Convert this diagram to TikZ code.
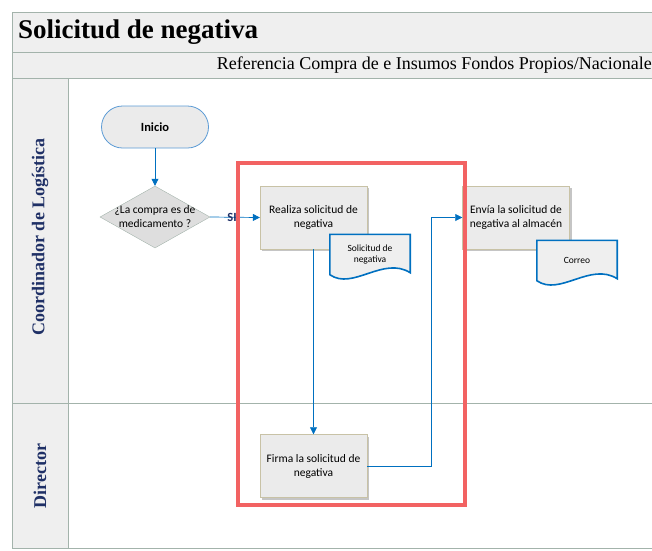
\documentclass[tikz,border=0pt]{standalone}
\usepackage{fontspec}
\setmainfont{Liberation Serif}
\newfontfamily\boxfont{Carlito}
\usetikzlibrary{arrows.meta,positioning,calc,shapes.geometric,shadows}
\definecolor{flowblue}{HTML}{0070C0}
\definecolor{startblue}{HTML}{5B9BD5}
\definecolor{boxfill}{HTML}{EBEBEB}
\definecolor{boxline}{HTML}{C8C2A6}
\definecolor{lanegray}{HTML}{EFEFEF}
\definecolor{laneline}{HTML}{A3B3AB}
\definecolor{lanetext}{HTML}{1F3066}
\definecolor{focusred}{HTML}{F26262}
\tikzset{
    lane line/.style={laneline,line width=1pt},
    lane label/.style={font=\bfseries\fontsize{18}{20}\selectfont,text=lanetext,rotate=90},
    process/.style={draw=boxline,fill=boxfill,minimum width=107pt,minimum height=63pt,
        align=center,font=\boxfont\fontsize{11.5}{14}\selectfont,
        drop shadow={shadow xshift=2pt,shadow yshift=-2pt,fill=black!45,opacity=.5}},
    start/.style={draw=startblue,fill=boxfill,rounded corners=21pt,line width=.8pt,
        minimum width=107pt,minimum height=42pt,font=\boxfont\bfseries\fontsize{12.5}{14}\selectfont},
    decision/.style={diamond,draw=laneline,fill=black!13,inner sep=0pt,
        minimum width=110pt,minimum height=62pt,align=center,
        font=\boxfont\fontsize{11.5}{14}\selectfont},
    document/.style={minimum width=80pt,minimum height=40pt,align=center,
        font=\boxfont\fontsize{9.5}{11.5}\selectfont},
    docline/.style={draw=flowblue,fill=lanegray,line width=1.6pt},
    arr/.style={-{Triangle[width=7pt,length=7pt]},flowblue,line width=.7pt},
    focus/.style={focusred,line width=4pt},
}
% wavy outline round a document node
\newcommand{\docoutline}[1]{%
    \draw[docline] (#1.north west) -- (#1.north east) -- ($(#1.south east)+(0,-2)$)
        .. controls ($(#1.south east)+(-27,-19)$) and ($(#1.south west)+(23,16)$) .. (#1.south west) -- cycle;
}

\begin{document}
\begin{tikzpicture}[x=1pt,y=-1pt]
    \useasboundingbox (0,0) rectangle (652,550);
    % header and lanes
    \fill[lanegray] (12,12) rectangle (660,78);
    \fill[lanegray] (12,78) rectangle (68,548);
    \draw[lane line] (660,12) -- (12,12) -- (12,548) -- (660,548);
    \draw[lane line] (12,52) -- (660,52);
    \draw[lane line] (12,78) -- (660,78);
    \draw[lane line] (68,78) -- (68,548);
    \draw[lane line] (12,403) -- (660,403);
    \node[anchor=west,inner sep=0pt,font=\bfseries\fontsize{27}{29}\selectfont] (title) at (18,32) {Solicitud de negativa};
    \node[anchor=east,inner sep=0pt,font=\fontsize{18}{20}\selectfont] (ref) at (652,65) {Referencia Compra de e Insumos Fondos Propios/Nacionale};
    \node[lane label] (coord) at (40,237) {Coordinador de Logística};
    \node[lane label] (dir) at (40,476) {Director};

    % shapes
    \node[start] (inicio) at (155,127) {Inicio};
    \node[decision] (compra) at (155,217) {\makebox[0pt]{¿La compra es de}\\\makebox[0pt]{medicamento ?}};
    \node[process] (realiza) at (313.5,217.5) {Realiza solicitud de\\negativa};
    \node[process] (firma) at (313.5,466) {Firma la solicitud de\\negativa};
    \node[process] (envia) at (516,217.5) {Envía la solicitud de\\negativa al almacén};
    \node[document] (soldoc) at (370,254.5) {};
    \docoutline{soldoc}
    \node[document] at (soldoc) {Solicitud de\\negativa};
    \node[document] (correo) at (577,260.5) {};
    \docoutline{correo}
    \node[document] at (correo) {Correo};

    % connectors
    \draw[arr] (inicio) -- (compra);
    \draw[arr] (compra.east) -- node[pos=.44,font=\boxfont\bfseries\fontsize{12.5}{14}\selectfont,text=lanetext,inner sep=0pt] {SI} (realiza.west);
    \draw[arr] (realiza.south) -- (firma.north);
    \draw[arr] (firma.east) -- ++(64,0) |- (envia.west);

    % highlighted part
    \draw[focus] (238,163) rectangle (465,505);
\end{tikzpicture}
\end{document}
